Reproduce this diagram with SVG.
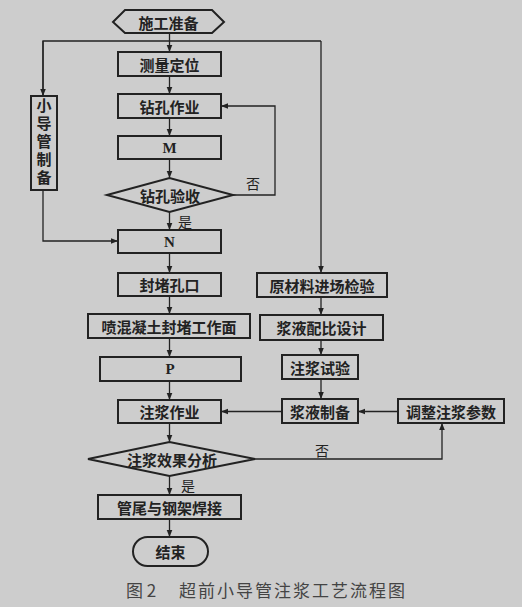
<svg xmlns="http://www.w3.org/2000/svg" width="522" height="607" viewBox="0 0 522 607">
<defs>
<marker id="ah" viewBox="0 0 10 10" refX="10" refY="5" markerWidth="7" markerHeight="7" markerUnits="userSpaceOnUse" orient="auto">
<path d="M0,1 L10,5 L0,9 Z" fill="#222"/>
</marker>
<style>
.n{fill:none;stroke:#222;stroke-width:2}
.t{font-family:"Noto Sans CJK SC","Liberation Serif",serif;font-size:15px;font-weight:bold;fill:#222;text-anchor:middle;dominant-baseline:central}
.l{font-family:"Noto Sans CJK SC","Liberation Serif",serif;font-size:14px;fill:#222;text-anchor:middle;dominant-baseline:central}
.m{font-family:"Liberation Serif",serif;font-size:15px;font-weight:bold;fill:#222;text-anchor:middle;dominant-baseline:central}
.c{fill:none;stroke:#222;stroke-width:1.3}
.a{marker-end:url(#ah)}
</style>
</defs>
<rect width="522" height="607" fill="#cdcdcd"/>
<g id="connectors">
<path class="c" d="M43,96 L43,41 L321,41"/>
<path class="c a" d="M43,41 L43,96"/>
<path class="c a" d="M321,41 L321,273"/>
<path class="c a" d="M169.5,33 L169.5,52"/>
<path class="c a" d="M169.5,76 L169.5,94"/>
<path class="c a" d="M169.5,118 L169.5,136"/>
<path class="c a" d="M169.5,159 L169.5,178"/>
<path class="c a" d="M233,195 L275,195 L275,106 L221,106"/>
<path class="c a" d="M169.5,212 L169.5,230"/>
<path class="c a" d="M43,190 L43,241 L118,241"/>
<path class="c a" d="M169.5,253 L169.5,273"/>
<path class="c a" d="M169.5,296 L169.5,314"/>
<path class="c a" d="M169.5,338 L169.5,357"/>
<path class="c a" d="M169.5,381 L169.5,400"/>
<path class="c a" d="M321,297 L321,315"/>
<path class="c a" d="M321,340 L321,355"/>
<path class="c a" d="M321,379 L321,399"/>
<path class="c a" d="M282,411.5 L221,411.5"/>
<path class="c a" d="M398,411.5 L358,411.5"/>
<path class="c a" d="M169.5,423 L169.5,442"/>
<path class="c a" d="M255,459 L442,459 L442,423"/>
<path class="c a" d="M169.5,476 L169.5,495"/>
<path class="c a" d="M169.5,519 L169.5,537"/>
<text class="l" x="253" y="183">否</text>
<text class="l" x="185" y="221">是</text>
<text class="l" x="322" y="450">否</text>
<text class="l" x="188" y="485">是</text>
</g>
<g id="start"><path class="n" d="M113,22 L125,10 L212,10 L224,22 L212,33 L125,33 Z"/><text class="t" x="168.5" y="22">施工准备</text></g>
<g id="survey"><rect class="n" x="118" y="52" width="103" height="24"/><text class="t" x="169.5" y="64">测量定位</text></g>
<g id="pipe"><rect class="n" x="31" y="96" width="26" height="94"/>
<text class="t" x="44" y="143" style="writing-mode:vertical-rl;letter-spacing:3px">小导管制备</text></g>
<g id="drill"><rect class="n" x="118" y="94" width="103" height="24"/><text class="t" x="169.5" y="106">钻孔作业</text></g>
<g id="M"><rect class="n" x="118" y="136" width="103" height="23"/><text class="m" x="169.5" y="147.5">M</text></g>
<g id="check"><path class="n" d="M107,195 L169.5,178 L233,195 L169.5,212 Z"/><text class="t" x="170" y="195">钻孔验收</text></g>
<g id="N"><rect class="n" x="118" y="230" width="103" height="23"/><text class="m" x="169.5" y="241.5">N</text></g>
<g id="seal"><rect class="n" x="118" y="273" width="103" height="23"/><text class="t" x="169.5" y="284.5">封堵孔口</text></g>
<g id="shot"><rect class="n" x="88" y="314" width="162" height="24"/><text class="t" x="169" y="326">喷混凝土封堵工作面</text></g>
<g id="P"><rect class="n" x="100" y="357" width="141" height="24"/><text class="m" x="170" y="369">P</text></g>
<g id="grout"><rect class="n" x="118" y="400" width="103" height="23"/><text class="t" x="169.5" y="411.5">注浆作业</text></g>
<g id="analysis"><path class="n" d="M88,459 L169.5,442 L255,459 L169.5,476 Z"/><text class="t" x="172" y="459">注浆效果分析</text></g>
<g id="weld"><rect class="n" x="98" y="495" width="143" height="24"/><text class="t" x="169.5" y="507">管尾与钢架焊接</text></g>
<g id="end"><rect class="n" x="133" y="537" width="75" height="29" rx="14.5"/><text class="t" x="170.5" y="551.5">结束</text></g>
<g id="material"><rect class="n" x="257" y="273" width="130" height="24"/><text class="t" x="322" y="285">原材料进场检验</text></g>
<g id="mix"><rect class="n" x="260" y="315" width="123" height="25"/><text class="t" x="321.5" y="327.5">浆液配比设计</text></g>
<g id="test"><rect class="n" x="282" y="355" width="76" height="24"/><text class="t" x="320" y="367">注浆试验</text></g>
<g id="prep"><rect class="n" x="282" y="399" width="76" height="24"/><text class="t" x="320" y="411">浆液制备</text></g>
<g id="adjust"><rect class="n" x="398" y="399" width="106" height="24"/><text class="t" x="451" y="411">调整注浆参数</text></g>
<text x="126" y="597" font-family="'Noto Sans CJK SC','Liberation Serif',serif" font-size="17" fill="#444">图 2</text>
<text x="179" y="597" font-family="'Noto Sans CJK SC','Liberation Serif',serif" font-size="17" fill="#444" letter-spacing="2">超前小导管注浆工艺流程图</text>
</svg>
